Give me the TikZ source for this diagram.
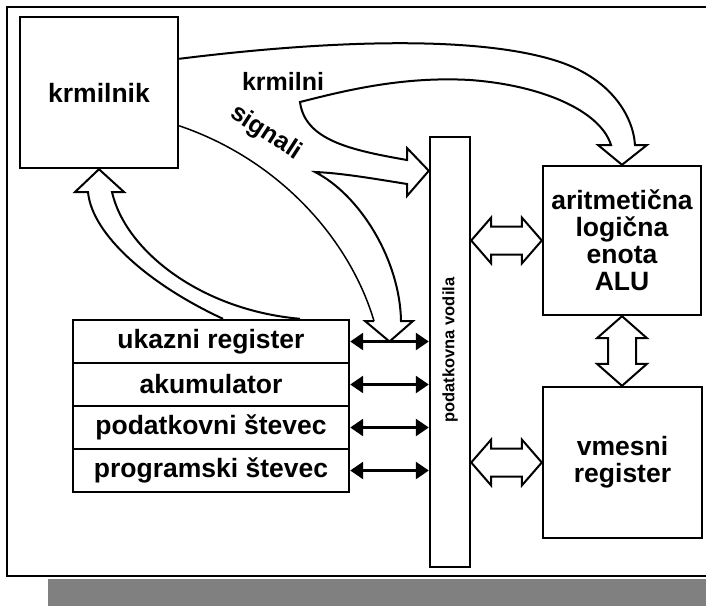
\documentclass[tikz,border=0pt]{standalone}
\usepackage{fontspec}
\setmainfont{Liberation Sans}
\usetikzlibrary{arrows.meta,calc}

% horizontal hollow double arrow between two points on one level
\newcommand\fatH[2]{%
  \draw[fat] (#1) -- ($(#1)+(20,-23)$) -- ($(#1)+(20,-14)$) -- ($(#2)+(-20,-14)$)
    -- ($(#2)+(-20,-23)$) -- (#2) -- ($(#2)+(-20,23)$) -- ($(#2)+(-20,14)$)
    -- ($(#1)+(20,14)$) -- ($(#1)+(20,23)$) -- cycle;}
% vertical hollow double arrow between two points on one column
\newcommand\fatV[2]{%
  \draw[fat] (#1) -- ($(#1)+(25,22)$) -- ($(#1)+(14,22)$) -- ($(#2)+(14,-22)$)
    -- ($(#2)+(25,-22)$) -- (#2) -- ($(#2)+(-25,-22)$) -- ($(#2)+(-14,-22)$)
    -- ($(#1)+(-14,22)$) -- ($(#1)+(-25,22)$) -- cycle;}

\begin{document}
\begin{tikzpicture}[x=1pt,y=-1pt,
  box/.style={draw,line width=2.4pt,inner sep=0pt,align=center,
    font=\fontsize{26.5}{27}\selectfont\bfseries},
  regbox/.style={box,minimum width=276pt,minimum height=43pt},
  fat/.style={line width=2pt,line join=miter,fill=white},
  outline/.style={line width=2pt,line join=miter},
  busarrow/.style={line width=2.6pt,
    {Triangle[length=13pt,width=17pt]}-{Triangle[length=13pt,width=17pt]}},
  lbl/.style={font=\fontsize{25}{25}\selectfont\bfseries,inner sep=0pt}]

\useasboundingbox (0,0) rectangle (706,606);
\clip (0,0) rectangle (706,606);

% frame and shadow bar
\draw[line width=2pt] (710,7) -- (7,7) -- (7,576) -- (710,576);
\fill[black!50] (48,579) rectangle (706,606);

% blocks
\node[box,minimum width=158pt,minimum height=151pt] (krmil) at (99,92.5) {krmilnik};
\node[box,minimum width=158pt,minimum height=149pt] (alu) at (622,240.5)
  {aritmetična\\logična\\enota\\ALU};
\node[box,minimum width=159pt,minimum height=151pt] (vmes) at (622.5,462.5)
  {vmesni\\register};
\node[draw,line width=2.4pt,minimum width=40pt,minimum height=430pt,inner sep=0pt]
  (bus) at (450,352) {};
\node[rotate=90,inner sep=0pt,font=\fontsize{16.5}{17}\selectfont\bfseries]
  (buslbl) at (450,350) {podatkovna vodila};

\node[regbox] (r1) at (211,341.5) {ukazni register};
\node[regbox] (r2) at (211,384.5) {akumulator};
\node[regbox] (r3) at (211,427.5) {podatkovni števec};
\node[regbox] (r4) at (211,470.5) {programski števec};

% register <-> bus
\foreach \r in {r1,r2,r3,r4}
  \draw[busarrow] (\r.east) -- (\r.east -| bus.west);

% wide data paths
\fatH{bus.east |- alu.west}{alu.west}
\fatH{bus.east |- vmes.west}{vmes.west}
\fatV{alu.south}{alu.south |- vmes.north}

% control signals fanning out of the controller
\coordinate (c0) at ($(krmil.north east)+(0,43)$);
\coordinate (c7) at ($(krmil.north east)+(0,110)$);
\coordinate (bt) at ($(bus.north west)+(0,35)$);
\coordinate (rt) at ($(r1.east)!0.5!(r1.east -| bus.west)$);
\draw[outline] (c0) .. controls (330,40) and (480,35) .. (560,62)
  .. controls (610,79) and (633,115) .. (635,145) -- (647,145) -- (alu.north)
  -- (598,145) -- (611,145) .. controls (600,110) and (540,85) .. (470,80)
  .. controls (400,76) and (340,92) .. (300,102)
  .. controls (305,140) and (350,150) .. (407,160) -- (407,148) -- (bt)
  -- (407,196) -- (407,184) .. controls (370,178) and (340,173) .. (315,172)
  .. controls (360,195) and (400,260) .. (401,321) -- (413,321) -- (rt)
  -- (365,321) -- (374,321);
\draw[line width=1.5pt] (374,321) .. controls (350,240) and (280,160) .. (c7);

% instruction register back to the controller
\draw[outline] ($(r1.north)+(12,0)$) .. controls (150,285) and (92,235) .. (88,192)
  -- (75,192) -- (krmil.south) -- (124,192) -- (112,192)
  .. controls (125,250) and (200,310) .. ($(r1.north)+(89,0)$);

\node[lbl] (klbl) at (283,81) {krmilni};
\node[lbl,rotate=-33] (slbl) at (266,133) {signali};
\end{tikzpicture}
\end{document}
